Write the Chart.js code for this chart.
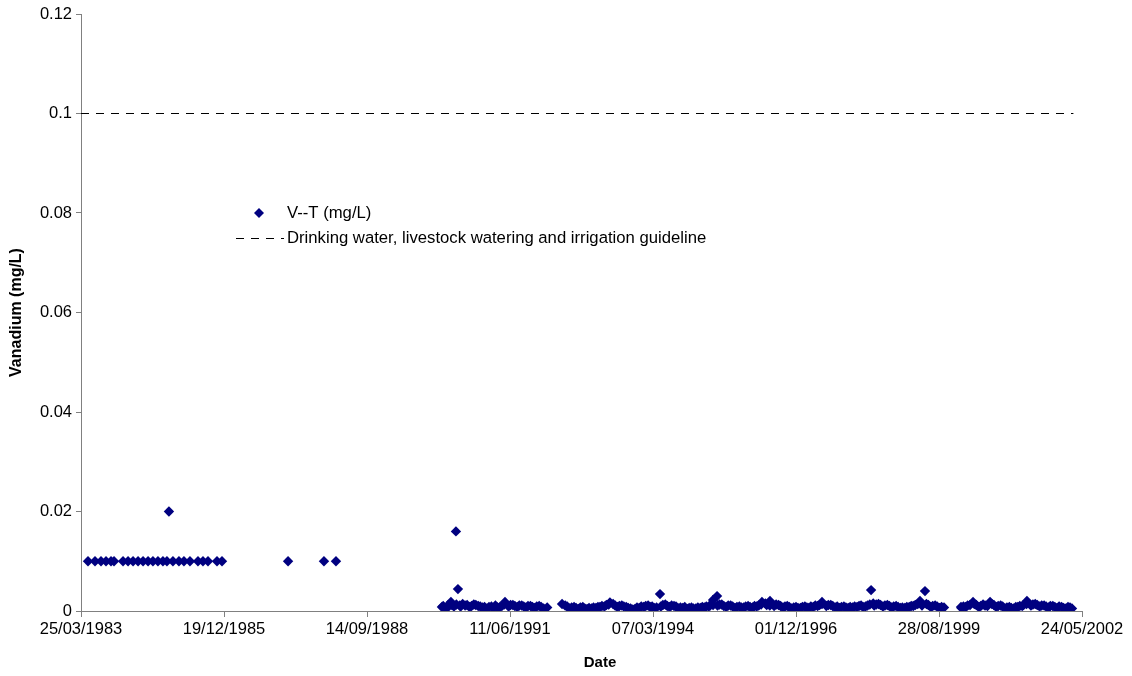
<!DOCTYPE html>
<html>
<head>
<meta charset="utf-8">
<script src="https://cdn.jsdelivr.net/npm/chart.js@4.4.0/dist/chart.umd.min.js"></script>
<style>
  html, body { margin: 0; padding: 0; background: #fff; }
</style>
</head>
<body>
<canvas id="myChart" width="1132" height="676"></canvas>
<script>
// x axis tick labels (every 1000 days)
const tickLabels = ['25/03/1983', '19/12/1985', '14/09/1988', '11/06/1991',
  '07/03/1994', '01/12/1996', '28/08/1999', '24/05/2002'];

// 1983 - 1988 samples
const earlyDates = ['1983-05-13', '1983-07-01', '1983-08-12', '1983-09-16', '1983-10-21', '1983-11-11',
  '1984-01-13', '1984-02-17', '1984-03-23', '1984-04-27', '1984-06-01', '1984-07-06', '1984-08-09',
  '1984-09-13', '1984-10-18', '1984-11-15', '1984-11-29', '1984-12-27', '1985-02-07', '1985-03-14',
  '1985-04-25', '1985-06-20', '1985-07-25', '1985-08-29', '1985-10-31', '1985-12-05',
  '1987-03-12', '1987-11-18', '1988-02-10'];
const earlyValues = [0.01, 0.01, 0.01, 0.01, 0.01, 0.01,
  0.01, 0.01, 0.01, 0.01, 0.01, 0.01, 0.01,
  0.01, 0.01, 0.01, 0.02, 0.01, 0.01, 0.01,
  0.01, 0.01, 0.01, 0.01, 0.01, 0.01,
  0.01, 0.01, 0.01];

// 1990 - 1992 samples
const dates1990 = ['1990-02-20', '1990-03-15', '1990-04-05', '1990-04-24', '1990-05-15', '1990-05-29',
  '1990-06-12', '1990-06-25', '1990-07-15', '1990-08-15', '1990-09-15', '1990-10-15', '1990-11-15', '1990-12-15',
  '1991-01-15', '1991-02-15', '1991-03-15', '1991-04-15', '1991-05-07', '1991-06-15', '1991-07-15',
  '1991-08-15', '1991-09-15', '1991-10-15', '1991-11-15', '1991-12-15', '1992-01-15', '1992-02-26'];
const values1990 = [0.0008, 0.0006, 0.0012, 0.0018, 0.0009, 0.016,
  0.0044, 0.0011, 0.0014, 0.0012, 0.0010, 0.0012, 0.0009, 0.0008,
  0.0008, 0.0006, 0.0007, 0.0010, 0.0018, 0.0012, 0.0010,
  0.0011, 0.0009, 0.0010, 0.0008, 0.0009, 0.0008, 0.0007];

// 1992 - 1999 samples
const dates1992 = ['1992-06-09', '1992-07-15', '1992-08-15', '1992-09-15', '1992-10-15', '1992-11-15', '1992-12-15',
  '1993-01-15', '1993-02-15', '1993-03-15', '1993-04-15', '1993-05-10', '1993-06-15', '1993-07-15',
  '1993-08-15', '1993-09-15', '1993-10-17', '1993-11-15', '1993-12-15',
  '1994-01-15', '1994-02-15', '1994-03-15', '1994-04-25', '1994-05-15', '1994-06-15', '1994-07-15',
  '1994-08-15', '1994-09-15', '1994-10-15', '1994-11-15', '1994-12-15',
  '1995-01-15', '1995-02-15', '1995-03-15', '1995-04-10', '1995-05-01', '1995-05-29', '1995-06-15',
  '1995-07-15', '1995-08-15', '1995-09-15', '1995-10-15', '1995-11-15', '1995-12-15',
  '1996-01-15', '1996-02-15', '1996-03-15', '1996-04-07', '1996-05-10', '1996-06-02', '1996-07-15',
  '1996-08-15', '1996-09-15', '1996-10-15', '1996-11-15', '1996-12-15',
  '1997-01-15', '1997-02-15', '1997-03-15', '1997-04-15', '1997-05-15', '1997-06-01', '1997-07-15',
  '1997-08-15', '1997-09-15', '1997-10-15', '1997-11-15', '1997-12-15',
  '1998-01-15', '1998-02-15', '1998-03-15', '1998-04-15', '1998-05-10', '1998-05-25', '1998-06-15',
  '1998-07-15', '1998-08-15', '1998-09-15', '1998-10-15', '1998-11-15', '1998-12-15',
  '1999-01-15', '1999-02-15', '1999-03-15', '1999-04-17', '1999-05-22', '1999-06-15', '1999-07-15',
  '1999-08-15', '1999-09-15', '1999-10-02'];
const values1992 = [0.0014, 0.0009, 0.0007, 0.0006, 0.0007, 0.0005, 0.0006,
  0.0007, 0.0008, 0.0010, 0.0012, 0.0017, 0.0011, 0.0010,
  0.0009, 0.0006, 0.0003, 0.0007, 0.0009,
  0.0010, 0.0008, 0.0006, 0.0034, 0.0012, 0.0010, 0.0011,
  0.0009, 0.0007, 0.0008, 0.0006, 0.0005,
  0.0007, 0.0008, 0.0009, 0.0011, 0.0022, 0.0030, 0.0013,
  0.0010, 0.0011, 0.0009, 0.0008, 0.0007, 0.0009,
  0.0008, 0.0010, 0.0011, 0.0018, 0.0012, 0.0020, 0.0013,
  0.0010, 0.0009, 0.0008, 0.0007, 0.0006,
  0.0008, 0.0007, 0.0009, 0.0011, 0.0012, 0.0018, 0.0012,
  0.0010, 0.0009, 0.0008, 0.0007, 0.0008,
  0.0009, 0.0010, 0.0008, 0.0011, 0.0042, 0.0015, 0.0013,
  0.0012, 0.0011, 0.0010, 0.0009, 0.0008, 0.0007,
  0.0008, 0.0010, 0.0012, 0.0020, 0.0040, 0.0012, 0.0010,
  0.0009, 0.0008, 0.0007];

// 2000 - 2002 samples
const dates2000 = ['2000-01-29', '2000-02-15', '2000-03-15', '2000-04-22', '2000-05-15', '2000-06-15',
  '2000-07-15', '2000-08-19', '2000-09-15', '2000-10-15', '2000-11-15', '2000-12-15',
  '2001-01-15', '2001-02-15', '2001-03-15', '2001-04-10', '2001-05-04', '2001-06-15',
  '2001-07-15', '2001-08-15', '2001-09-15', '2001-10-15', '2001-11-15', '2001-12-15',
  '2002-01-15', '2002-02-15', '2002-03-15'];
const values2000 = [0.0008, 0.0009, 0.0011, 0.0018, 0.0012, 0.0010,
  0.0011, 0.0018, 0.0012, 0.0010, 0.0009, 0.0007,
  0.0006, 0.0008, 0.0010, 0.0012, 0.0020, 0.0013,
  0.0012, 0.0011, 0.0009, 0.0010, 0.0008, 0.0009,
  0.0006, 0.0008, 0.0005];

// start-of-month samples 1990 - 2002
const monthStartDates = [
  '1990-03-01', '1990-04-01', '1990-05-01', '1990-06-01', '1990-07-01', '1990-08-01', '1990-09-01', '1990-10-01', '1990-11-01', '1990-12-01',
  '1991-01-01', '1991-02-01', '1991-03-01', '1991-04-01', '1991-05-01', '1991-06-01', '1991-07-01', '1991-08-01', '1991-09-01', '1991-10-01', '1991-11-01', '1991-12-01',
  '1992-01-01', '1992-02-01',
  '1992-07-01', '1992-08-01', '1992-09-01', '1992-10-01', '1992-11-01', '1992-12-01',
  '1993-01-01', '1993-02-01', '1993-03-01', '1993-04-01', '1993-05-01', '1993-06-01', '1993-07-01', '1993-08-01', '1993-09-01', '1993-10-01', '1993-11-01', '1993-12-01',
  '1994-01-01', '1994-02-01', '1994-03-01', '1994-04-01', '1994-05-01', '1994-06-01', '1994-07-01', '1994-08-01', '1994-09-01', '1994-10-01', '1994-11-01', '1994-12-01',
  '1995-01-01', '1995-02-01', '1995-03-01', '1995-04-01', '1995-05-01', '1995-06-01', '1995-07-01', '1995-08-01', '1995-09-01', '1995-10-01', '1995-11-01', '1995-12-01',
  '1996-01-01', '1996-02-01', '1996-03-01', '1996-04-01', '1996-05-01', '1996-06-01', '1996-07-01', '1996-08-01', '1996-09-01', '1996-10-01', '1996-11-01', '1996-12-01',
  '1997-01-01', '1997-02-01', '1997-03-01', '1997-04-01', '1997-05-01', '1997-06-01', '1997-07-01', '1997-08-01', '1997-09-01', '1997-10-01', '1997-11-01', '1997-12-01',
  '1998-01-01', '1998-02-01', '1998-03-01', '1998-04-01', '1998-05-01', '1998-06-01', '1998-07-01', '1998-08-01', '1998-09-01', '1998-10-01', '1998-11-01', '1998-12-01',
  '1999-01-01', '1999-02-01', '1999-03-01', '1999-04-01', '1999-05-01', '1999-06-01', '1999-07-01', '1999-08-01', '1999-09-01',
  '2000-02-01', '2000-03-01', '2000-04-01', '2000-05-01', '2000-06-01', '2000-07-01', '2000-08-01', '2000-09-01', '2000-10-01', '2000-11-01', '2000-12-01',
  '2001-01-01', '2001-02-01', '2001-03-01', '2001-04-01', '2001-05-01', '2001-06-01', '2001-07-01', '2001-08-01', '2001-09-01', '2001-10-01', '2001-11-01', '2001-12-01',
  '2002-01-01', '2002-02-01', '2002-03-01'];
const monthStartValues = [
  0.0010, 0.0007, 0.0012, 0.0013, 0.0009, 0.0011, 0.0008, 0.0013, 0.0010, 0.0007,
  0.0005, 0.0009, 0.0011, 0.0008, 0.0013, 0.0009, 0.0012, 0.0008, 0.0011, 0.0007, 0.0010, 0.0006,
  0.0010, 0.0005,
  0.0011, 0.0005, 0.0008, 0.0004, 0.0008, 0.0004,
  0.0005, 0.0006, 0.0008, 0.0009, 0.0013, 0.0014, 0.0008, 0.0011, 0.0008, 0.0005, 0.0004, 0.0006,
  0.0008, 0.0011, 0.0009, 0.0007, 0.0009, 0.0013, 0.0008, 0.0010, 0.0005, 0.0006, 0.0004, 0.0007,
  0.0005, 0.0006, 0.0007, 0.0009, 0.0012, 0.0011, 0.0013, 0.0008, 0.0011, 0.0006, 0.0009, 0.0007,
  0.0010, 0.0007, 0.0009, 0.0013, 0.0015, 0.0011, 0.0010, 0.0012, 0.0007, 0.0010, 0.0005, 0.0008,
  0.0006, 0.0009, 0.0006, 0.0008, 0.0010, 0.0014, 0.0010, 0.0012, 0.0007, 0.0006, 0.0009, 0.0006,
  0.0007, 0.0008, 0.0011, 0.0009, 0.0013, 0.0011, 0.0014, 0.0009, 0.0012, 0.0007, 0.0010, 0.0006,
  0.0006, 0.0008, 0.0010, 0.0014, 0.0011, 0.0014, 0.0008, 0.0011, 0.0006,
  0.0006, 0.0008, 0.0012, 0.0014, 0.0008, 0.0013, 0.0010, 0.0014, 0.0008, 0.0011, 0.0005,
  0.0008, 0.0005, 0.0008, 0.0010, 0.0014, 0.0011, 0.0014, 0.0009, 0.0011, 0.0007, 0.0010, 0.0006,
  0.0008, 0.0005, 0.0007];

// guideline
const guidelineDates = ['1983-03-25', '2002-03-25'];
const guidelineValue = 0.1;

const origin = Date.UTC(1983, 2, 25);
function isoToDay(s) {
  const p = s.split('-');
  return (Date.UTC(+p[0], +p[1] - 1, +p[2]) - origin) / 86400000;
}
function labelToDay(s) {
  const p = s.split('/');
  return (Date.UTC(+p[2], +p[1] - 1, +p[0]) - origin) / 86400000;
}
function toPoints(dates, values) {
  return dates.map((d, i) => ({ x: isoToDay(d), y: values[i] }));
}

const family = '"Liberation Sans", Arial, sans-serif';
const font = { family: family, size: 16.5 };
const navy = '#000080';

const points = [].concat(
  toPoints(earlyDates, earlyValues),
  toPoints(dates1990, values1990),
  toPoints(dates1992, values1992),
  toPoints(dates2000, values2000),
  toPoints(monthStartDates, monthStartValues)
);

const data = {
  datasets: [
    {
      label: 'V--T (mg/L)',
      data: points,
      pointStyle: 'rectRot',
      pointRadius: 5.2,
      borderWidth: 0,
      backgroundColor: navy,
      borderColor: navy,
    },
    {
      label: 'Drinking water, livestock watering and irrigation guideline',
      data: guidelineDates.map(d => ({ x: isoToDay(d), y: guidelineValue })),
      showLine: true,
      pointRadius: 0,
      borderColor: '#000',
      borderWidth: 1,
      borderDash: [8, 7],
    },
  ],
};

// legend inside the plot and the x axis title, placed like the original
const extras = {
  id: 'extras',
  afterDraw(chart) {
    const ctx = chart.ctx;
    const ds = chart.data.datasets;
    ctx.save();
    ctx.textBaseline = 'middle';
    // marker entry
    const mx = 259, my = 213, r = 5;
    ctx.fillStyle = navy;
    ctx.beginPath();
    ctx.moveTo(mx, my - r);
    ctx.lineTo(mx + r, my);
    ctx.lineTo(mx, my + r);
    ctx.lineTo(mx - r, my);
    ctx.closePath();
    ctx.fill();
    ctx.font = '16.7px ' + family;
    ctx.fillStyle = '#000';
    ctx.fillText(ds[0].label, 287, my);
    // dashed line entry
    const ly = 238;
    ctx.strokeStyle = '#000';
    ctx.lineWidth = 1;
    ctx.setLineDash([8, 7]);
    ctx.beginPath();
    ctx.moveTo(236, ly + 0.5);
    ctx.lineTo(284, ly + 0.5);
    ctx.stroke();
    ctx.setLineDash([]);
    ctx.fillText(ds[1].label, 287, ly);
    // x axis title
    ctx.font = 'bold 15px ' + family;
    ctx.textAlign = 'center';
    ctx.fillText('Date', 600, 663);
    ctx.restore();
  }
};

const ctx = document.getElementById('myChart').getContext('2d');
const myChart = new Chart(ctx, {
  type: 'scatter',
  data: data,
  plugins: [extras],
  options: {
    responsive: false,
    animation: false,
    layout: { padding: { top: 14, right: 50, left: 0, bottom: 0 } },
    plugins: {
      legend: { display: false },
      tooltip: { enabled: false },
    },
    scales: {
      x: {
        type: 'linear',
        min: labelToDay(tickLabels[0]),
        max: labelToDay(tickLabels[tickLabels.length - 1]),
        afterBuildTicks: (scale) => {
          scale.ticks = tickLabels.map(t => ({ value: labelToDay(t) }));
        },
        afterFit: (scale) => { scale.height = 65; },
        ticks: {
          autoSkip: false,
          maxRotation: 0,
          color: '#000',
          font: font,
          padding: 3,
          callback: (v, i) => tickLabels[i],
        },
        grid: { drawOnChartArea: false, color: '#808080', tickLength: 6 },
        border: { color: '#808080' },
      },
      y: {
        min: 0,
        max: 0.12,
        afterFit: (scale) => { scale.width = 81; },
        ticks: {
          stepSize: 0.02,
          color: '#000',
          font: font,
          padding: 4,
          callback: (v) => String(+v.toFixed(2)),
        },
        grid: { drawOnChartArea: false, color: '#808080', tickLength: 5 },
        border: { color: '#808080' },
        title: {
          display: true, text: 'Vanadium (mg/L)', color: '#000',
          font: { family: family, size: 16, weight: 'bold' }, padding: { top: 7, bottom: 4 }
        },
      },
    },
  },
});
</script>
</body>
</html>
